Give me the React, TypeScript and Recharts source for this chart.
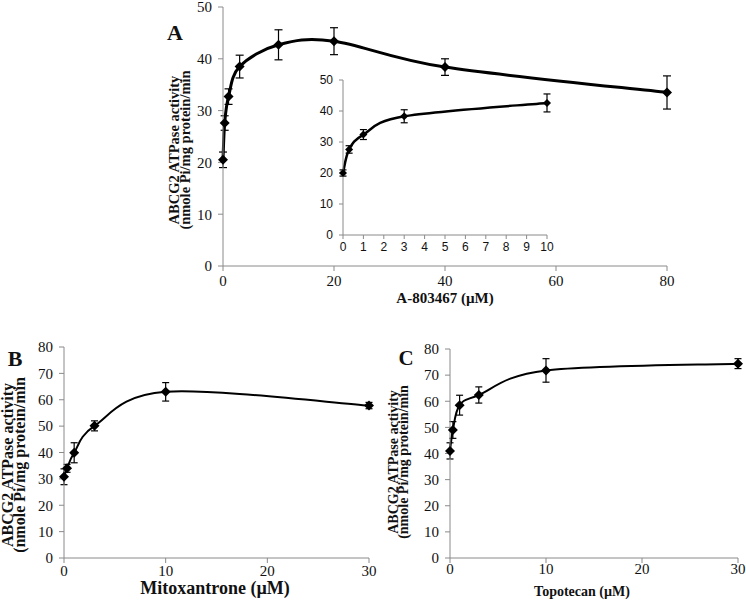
import { LineChart, Line, XAxis, YAxis, ErrorBar } from "recharts";

// panel A: A-803467
const concA = [0, 0.3, 1, 3, 10, 20, 40, 80];
const activityA = [20.5, 27.6, 32.7, 38.5, 42.7, 43.4, 38.4, 33.5];
const errorA = [1.5, 1.4, 1.5, 2.2, 2.9, 2.6, 1.6, 3.2];

// inset of A (0-10 µM)
const concInset = [0, 0.3, 1, 3, 10];
const activityInset = [20.0, 27.6, 32.4, 38.3, 42.6];
const errorInset = [1.0, 1.2, 1.6, 2.1, 2.9];

// panel B: mitoxantrone
const concB = [0, 0.3, 1, 3, 10, 30];
const activityB = [30.8, 34.0, 39.9, 50.1, 63.0, 57.8];
const errorB = [3.0, 1.5, 3.8, 1.9, 3.5, 1.2];

// panel C: topotecan
const concC = [0, 0.3, 1, 3, 10, 30];
const activityC = [41.0, 49.0, 58.5, 62.4, 71.8, 74.4];
const errorC = [3.1, 3.2, 3.8, 3.1, 4.5, 1.9];

const ticksA = [0, 20, 40, 60, 80];
const ticksInsetX = [0, 1, 2, 3, 4, 5, 6, 7, 8, 9, 10];
const ticks50 = [0, 10, 20, 30, 40, 50];
const ticks30 = [0, 10, 20, 30];
const ticks80 = [0, 10, 20, 30, 40, 50, 60, 70, 80];

const yTitle1 = "ABCG2 ATPase activity";
const yTitle2 = "(nmole Pi/mg protein/min";

const SERIF = "'Liberation Serif', 'Times New Roman', serif";
const SANS = "'Liberation Sans', Arial, sans-serif";
const AXIS = "#8a8a8a";

const rows = (xs: number[], ys: number[], es: number[]) =>
  xs.map((x, i) => ({ x, y: ys[i], e: es[i] }));

// Excel-like smoothed line (Catmull-Rom through the points)
const excelSmooth = (context: any) => {
  let pts: number[][] = [];
  return {
    areaStart() {},
    areaEnd() {},
    lineStart() {
      pts = [];
    },
    point(x: number, y: number) {
      pts.push([+x, +y]);
    },
    lineEnd() {
      const n = pts.length;
      if (!n) return;
      context.moveTo(pts[0][0], pts[0][1]);
      for (let i = 0; i < n - 1; i++) {
        const p0 = pts[Math.max(i - 1, 0)];
        const p1 = pts[i];
        const p2 = pts[i + 1];
        const p3 = pts[Math.min(i + 2, n - 1)];
        context.bezierCurveTo(
          p1[0] + (p2[0] - p0[0]) / 6,
          p1[1] + (p2[1] - p0[1]) / 6,
          p2[0] - (p3[0] - p1[0]) / 6,
          p2[1] - (p3[1] - p1[1]) / 6,
          p2[0],
          p2[1]
        );
      }
    },
  };
};

const diamond = (s: number) => (p: any) => {
  const { cx, cy, index } = p;
  return (
    <path
      key={`dot-${index}`}
      d={`M${cx},${cy - s}L${cx + s},${cy}L${cx},${cy + s}L${cx - s},${cy}Z`}
      fill="#000"
    />
  );
};

type PanelProps = {
  data: { x: number; y: number; e: number }[];
  left: number;
  top: number;
  width: number;
  height: number;
  margin: { top: number; right: number; bottom: number; left: number };
  xMax: number;
  xTicks: number[];
  yMax: number;
  yTicks: number[];
  font: string;
  fontSize: number;
  lineWidth: number;
  dotSize: number;
  capWidth: number;
  xTickMargin: number;
  yTickMargin: number;
  tickSize: number;
};

function Panel(p: PanelProps) {
  const tickStyle = { fontFamily: p.font, fontSize: p.fontSize, fill: "#111" };
  return (
    <div style={{ position: "absolute", left: p.left, top: p.top }}>
      <LineChart width={p.width} height={p.height} data={p.data} margin={p.margin}>
        <XAxis
          dataKey="x"
          type="number"
          domain={[0, p.xMax]}
          ticks={p.xTicks}
          interval={0}
          height={20}
          stroke={AXIS}
          tickSize={p.tickSize}
          tickMargin={p.xTickMargin}
          tick={tickStyle}
        />
        <YAxis
          type="number"
          domain={[0, p.yMax]}
          ticks={p.yTicks}
          interval={0}
          width={30}
          stroke={AXIS}
          tickSize={p.tickSize}
          tickMargin={p.yTickMargin}
          tick={tickStyle}
        />
        <Line
          dataKey="y"
          type={excelSmooth as any}
          stroke="#000"
          strokeWidth={p.lineWidth}
          dot={diamond(p.dotSize)}
          activeDot={false}
          isAnimationActive={false}
        >
          <ErrorBar dataKey="e" direction="y" width={p.capWidth} stroke="#000" strokeWidth={1.2} />
        </Line>
      </LineChart>
    </div>
  );
}

const abs = (x: number, y: number, font: string, extra: any = {}) => ({
  position: "absolute" as const,
  left: x,
  top: y,
  transform: "translate(-50%, -50%)",
  whiteSpace: "nowrap" as const,
  font,
  color: "#111",
  ...extra,
});

function YTitle({ x, y, size, lh }: { x: number; y: number; size: number; lh: number }) {
  return (
    <div
      style={abs(x, y, `bold ${size}px ${SERIF}`, {
        transform: "translate(-50%, -50%) rotate(-90deg)",
        lineHeight: `${lh}px`,
        textAlign: "center",
      })}
    >
      {yTitle1}
      <br />
      {yTitle2}
    </div>
  );
}

export default function App() {
  return (
    <div
      style={{
        position: "absolute",
        left: 0,
        top: 0,
        width: 746,
        height: 605,
        background: "#fff",
        overflow: "hidden",
      }}
    >
      <Panel
        data={rows(concA, activityA, errorA)}
        left={0}
        top={0}
        width={700}
        height={300}
        margin={{ top: 7, right: 33, bottom: 14, left: 193 }}
        xMax={80}
        xTicks={ticksA}
        yMax={50}
        yTicks={ticks50}
        font={SERIF}
        fontSize={15}
        lineWidth={3}
        dotSize={5}
        capWidth={4}
        xTickMargin={4}
        yTickMargin={6}
        tickSize={5}
      />
      <Panel
        data={rows(concInset, activityInset, errorInset)}
        left={290}
        top={70}
        width={270}
        height={190}
        margin={{ top: 10, right: 13, bottom: 5, left: 23 }}
        xMax={10}
        xTicks={ticksInsetX}
        yMax={50}
        yTicks={ticks50}
        font={SANS}
        fontSize={12}
        lineWidth={2.5}
        dotSize={4}
        capWidth={3.5}
        xTickMargin={3}
        yTickMargin={6}
        tickSize={4}
      />
      <Panel
        data={rows(concB, activityB, errorB)}
        left={0}
        top={320}
        width={385}
        height={260}
        margin={{ top: 27, right: 16, bottom: 2, left: 34 }}
        xMax={30}
        xTicks={ticks30}
        yMax={80}
        yTicks={ticks80}
        font={SERIF}
        fontSize={15}
        lineWidth={2}
        dotSize={5}
        capWidth={3.5}
        xTickMargin={2}
        yTickMargin={6}
        tickSize={5}
      />
      <Panel
        data={rows(concC, activityC, errorC)}
        left={380}
        top={320}
        width={366}
        height={260}
        margin={{ top: 29, right: 8, bottom: 2, left: 40 }}
        xMax={30}
        xTicks={ticks30}
        yMax={80}
        yTicks={ticks80}
        font={SERIF}
        fontSize={15}
        lineWidth={2}
        dotSize={5}
        capWidth={3.5}
        xTickMargin={0}
        yTickMargin={6}
        tickSize={5}
      />

      <div style={abs(175, 33, `bold 22px ${SERIF}`)}>A</div>
      <div style={abs(15, 359, `bold 22px ${SERIF}`)}>B</div>
      <div style={abs(406, 358, `bold 21px ${SERIF}`)}>C</div>

      <YTitle x={180} y={150} size={14.5} lh={11} />
      <YTitle x={14} y={465} size={16} lh={12} />
      <YTitle x={399} y={462} size={14} lh={10} />

      <div style={abs(445, 298, `bold 15px ${SERIF}`, { lineHeight: "15px" })}>A-803467 (µM)</div>
      <div style={abs(215, 588, `bold 18px ${SERIF}`)}>Mitoxantrone (µM)</div>
      <div style={abs(582, 592, `bold 14px ${SERIF}`)}>Topotecan (µM)</div>
    </div>
  );
}
